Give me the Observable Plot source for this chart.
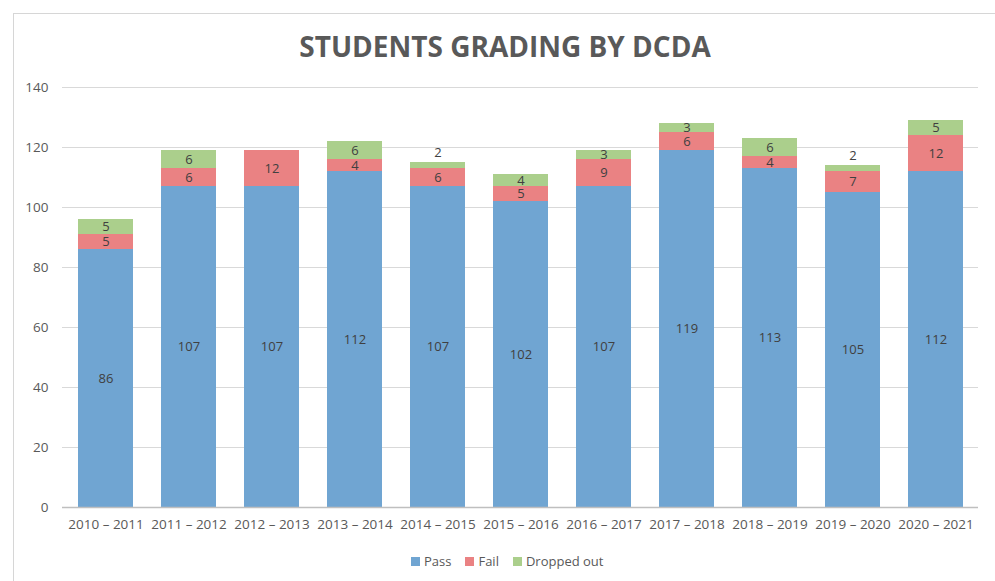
<!DOCTYPE html>
<html>
<head>
<meta charset="utf-8">
<script src="https://cdn.jsdelivr.net/npm/d3@7"></script>
<script src="https://cdn.jsdelivr.net/npm/@observablehq/plot@0.6"></script>
<style>
  html, body { margin: 0; padding: 0; background: #fff; }
  #wrap { position: relative; width: 995px; height: 581px; overflow: hidden; font-family: "Open Sans", sans-serif; }
  #frame { position: absolute; left: 13px; top: 13px; width: 1100px; height: 700px; border-left: 1.5px solid #d6d6d6; border-top: 1.5px solid #d6d6d6; }
  #title { position: absolute; left: 205px; width: 600px; top: 32px; line-height: 28px; text-align: center; font-size: 28px; font-weight: 700; color: #595959; }
  #chart { position: absolute; left: 0; top: 0; }
  #legend { position: absolute; left: 411px; top: 551px; display: flex; align-items: center; font-size: 13px; color: #595959; line-height: 20px; }
  .item { display: flex; align-items: center; margin-right: 14px; }
  .sw { width: 9px; height: 9px; margin-right: 4px; }
</style>
</head>
<body>
<div id="wrap">
  <div id="frame"></div>
  <div id="chart"></div>
  <div id="title">STUDENTS GRADING BY DCDA</div>
  <div id="legend"></div>
</div>
<script>
const years = ["2010 – 2011","2011 – 2012","2012 – 2013","2013 – 2014","2014 – 2015","2015 – 2016","2016 – 2017","2017 – 2018","2018 – 2019","2019 – 2020","2020 – 2021"];
const pass    = [86, 107, 107, 112, 107, 102, 107, 119, 113, 105, 112];
const fail    = [5, 6, 12, 4, 6, 5, 9, 6, 4, 7, 12];
const dropped = [5, 6, 0, 6, 2, 4, 3, 3, 6, 2, 5];
const seriesNames = ["Pass", "Fail", "Dropped out"];
const seriesColors = ["#70a5d2", "#ea8283", "#abcf8c"];
const yTicks = [0, 20, 40, 60, 80, 100, 120, 140];

const seriesValues = [pass, fail, dropped];
const data = years.flatMap((yr, i) => seriesValues.map((arr, k) => ({year: yr, series: seriesNames[k], value: arr[i]})));

const inside = [], above = [];
years.forEach((yr, i) => {
  let base = 0;
  seriesValues.forEach((arr, k) => {
    const v = arr[i];
    if (v > 0) {
      if (k === 2 && v <= 2) above.push({year: yr, y: base + v, text: String(v)});
      else inside.push({year: yr, y: base + v / 2, text: String(v)});
    }
    base += v;
  });
});

const chart = Plot.plot({
  width: 995, height: 581,
  marginTop: 87, marginBottom: 74, marginLeft: 62, marginRight: 17,
  x: {domain: years, paddingInner: 0.34, paddingOuter: 0.17, label: null, tickSize: 0, tickPadding: 12},
  y: {domain: [0, 140], ticks: yTicks, label: null, tickSize: 0, tickPadding: 14},
  color: {domain: seriesNames, range: seriesColors},
  style: {fontFamily: "'Open Sans', sans-serif", fontSize: "13.5px", color: "#595959", background: "transparent"},
  marks: [
    Plot.gridY(yTicks, {stroke: "#d9d9d9", strokeOpacity: 1, strokeWidth: 1.2}),
    Plot.barY(data, {x: "year", y: "value", fill: "series", order: seriesNames}),
    Plot.ruleY([0], {stroke: "#bfbfbf", strokeWidth: 1.5}),
    Plot.text(inside, {x: "year", y: "y", text: "text", fill: "#404040", fontSize: 13}),
    Plot.text(above, {x: "year", y: "y", text: "text", fill: "#404040", fontSize: 13, dy: -10})
  ]
});
document.getElementById("chart").appendChild(chart);

const legend = document.getElementById("legend");
seriesNames.forEach((name, k) => {
  const it = document.createElement("div");
  it.className = "item";
  const sw = document.createElement("span");
  sw.className = "sw";
  sw.style.background = seriesColors[k];
  const t = document.createElement("span");
  t.textContent = name;
  it.appendChild(sw); it.appendChild(t);
  legend.appendChild(it);
});
</script>
</body>
</html>
